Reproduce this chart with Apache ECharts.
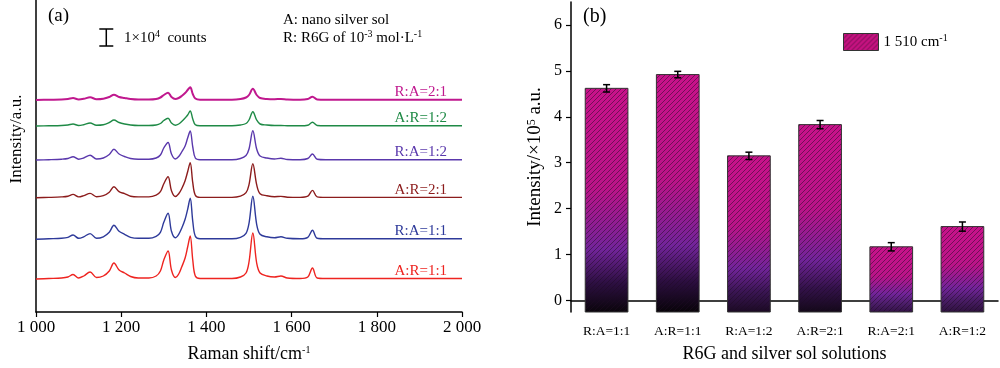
<!DOCTYPE html>
<html><head><meta charset="utf-8">
<script src="https://cdn.jsdelivr.net/npm/echarts@6/dist/echarts.min.js"></script>
<style>html,body{margin:0;padding:0;background:#fff}#c{width:1000px;height:368px}</style>
</head><body><div id="c"></div>
<script>
// ---------- Panel (a): Raman spectra (intensity in a.u.) ----------
const ramanShift = [1000,1030,1060,1075,1087,1100,1112,1127,1142,1158,1172,1183,1195,1208,1222,1240,1265,1282,1292,1300,1310,1318,1327,1335,1342,1350,1356,1362,1368,1374,1385,1420,1460,1480,1493,1500,1509,1518,1526,1542,1560,1575,1590,1620,1638,1649,1660,1680,1720,1780,1850,1920,2000];
const specAR11 = [0,0.5,1,2,4.5,1,3,7,1.5,3,8,16,9,6,2.5,1,1,3,8,19,28,9,1.5,5,12,21,32,43,19,3,0.5,0.5,0.5,2,6,17,46,16,6,3,2,3,1,0.5,2,11,1,0.5,0.5,0.5,0.5,0.5,0.5];
const specRA11 = [0,0.5,1,2,4.3,1,2.5,5.7,1,2.5,7,14,8,5,2,1,1,3,7,17,26,8,1.5,5,11,20,30,41,18,3,0.5,0.5,0.5,2,6,16,43,15,5,2.5,1.5,2.5,1,0.5,2,9,1,0.5,0.5,0.5,0.5,0.5,0.5];
const specAR21 = [0,0.3,0.8,1.5,3.3,0.8,2,4.3,1,2,5.5,11,6,4,1.5,0.8,0.8,2.5,6,14,21,7,1.2,4,9,17,26,35,15,2.5,0.3,0.3,0.3,1.5,5,13,34,13,4,2,1,1.3,0.5,0.3,1.5,7.3,0.8,0.3,0.3,0.3,0.3,0.3,0.3];
const specRA12 = [0,0.3,0.8,1.5,3.3,0.8,2,4.7,1,2,5.5,10.7,6,3.5,1.5,0.8,0.8,2,5,12,17.5,6,1,3.5,8,14,22,29,13,2,0.3,0.3,0.3,1.5,4.5,11,29.3,11,4,2,1,1.7,0.5,0.3,1.5,6,0.8,0.3,0.3,0.3,0.3,0.3,0.3];
const specAR12 = [0,0.2,0.5,1,2,0.5,1.3,3,0.8,1.3,3.5,6,3.5,2,1,0.5,0.5,1,2.5,5.5,7.7,3,0.8,2,4.5,8,11,15,7,1.2,0.2,0.2,0.2,1,2.5,6,14.3,6,2,1,0.5,0.5,0.3,0.2,0.8,3.7,0.5,0.2,0.2,0.2,0.2,0.2,0.2];
const specRA21 = [0,0.3,0.5,1,2,0.6,1.2,2.7,0.8,1.3,3,5.3,3,2,1,0.5,0.5,1,2.5,5,7.3,3,1,2,4,7,10,12.7,6,1.5,0.3,0.3,0.3,1,2.5,5,11.3,5,2,1,0.8,1,0.5,0.3,1,3.3,0.5,0.3,0.3,0.3,0.3,0.3,0.3];
const spectraNames   = ['A:R=1:1','R:A=1:1','A:R=2:1','R:A=1:2','A:R=1:2','R:A=2:1'];
const spectraData    = [specAR11, specRA11, specAR21, specRA12, specAR12, specRA21];
const spectraOffsets = [33, 72.7, 114.3, 152, 186, 212];   // vertical stacking offsets (a.u.)
const spectraColors  = ['#EE2420','#2E3A9A','#8C1C1C','#5A38AC','#1F8A46','#C0188E'];
const ramanTicks = [1000,1200,1400,1600,1800,2000];
const scaleBar = {x: 1165, from: 266, to: 283}; // 1x10^4 counts

// ---------- Panel (b): 1510 cm-1 band intensity ----------
const barCategories = ['R:A=1:1','A:R=1:1','R:A=1:2','A:R=2:1','R:A=2:1','A:R=1:2'];
const barValues = [4.62, 4.92, 3.15, 3.83, 1.17, 1.61];
const barErrors = [0.08, 0.07, 0.08, 0.09, 0.09, 0.10];
const yTicksB = [0,1,2,3,4,5,6];

const FONT = '"Liberation Serif","Times New Roman",serif';
const B_MIN = -0.25, B_MAX = 6.5;

function hatchCanvas(bg){
  const s = 5, c = document.createElement('canvas'); c.width = s; c.height = s;
  const g = c.getContext('2d');
  if (bg){ g.fillStyle = bg; g.fillRect(0,0,s,s); }
  g.strokeStyle = 'rgba(30,10,35,0.55)'; g.lineWidth = 0.9;
  g.beginPath();
  g.moveTo(-1,s+1); g.lineTo(s+1,-1);
  g.moveTo(-2,2); g.lineTo(2,-2);
  g.moveTo(s-2,s+2); g.lineTo(s+2,s-2);
  g.stroke();
  return c;
}
const hatch = hatchCanvas(null);
const hatchLegend = hatchCanvas('#C4127F');

function mix(a,b,t){
  const pa=[1,3,5].map(i=>parseInt(a.substr(i,2),16)), pb=[1,3,5].map(i=>parseInt(b.substr(i,2),16));
  return 'rgb('+pa.map((v,i)=>Math.round(v+(pb[i]-v)*t)).join(',')+')';
}

const supRich = {s:{fontSize:10, lineHeight:10, verticalAlign:'top', fontFamily:FONT, color:'#000'}};

const lineSeries = spectraNames.map((n,k)=>({
  type:'line', name:n, xAxisIndex:0, yAxisIndex:0, showSymbol:false, symbol:'none',
  smooth:0.35, silent:true,
  lineStyle:{color:spectraColors[k], width: k===5 ? 2 : 1.4},
  data: ramanShift.map((x,i)=>[x, spectraOffsets[k] + spectraData[k][i]])
}));

const chart = echarts.init(document.getElementById('c'), null, {renderer:'canvas'});
chart.setOption({
  animation:false,
  textStyle:{fontFamily:FONT, color:'#000'},
  grid:[
    {left:36, top:0, width:426, height:312},
    {left:571, top:2, width:427, height:313.3}
  ],
  xAxis:[
    {type:'value', gridIndex:0, min:1000, max:2000, interval:200,
     axisLine:{lineStyle:{color:'#000', width:1.5}}, axisTick:{show:true, length:5, lineStyle:{color:'#000', width:1.2}},
     splitLine:{show:false},
     axisLabel:{fontSize:17, fontFamily:FONT, color:'#000', margin:7,
       formatter:v=>{const s=String(v); return s.length>3 ? s.slice(0,s.length-3)+' '+s.slice(-3) : s;}},
     name:'Raman shift/cm{s|-1}', nameLocation:'middle', nameGap:33,
     nameTextStyle:{fontSize:18, fontFamily:FONT, color:'#000', rich:supRich}},
    {type:'category', gridIndex:1, data:barCategories,
     axisLine:{lineStyle:{color:'#000', width:1.5}}, axisTick:{show:true, alignWithLabel:true, length:5, lineStyle:{color:'#000', width:1.2}},
     axisLabel:{fontSize:13.5, fontFamily:FONT, color:'#000', margin:12},
     name:'R6G and silver sol solutions', nameLocation:'middle', nameGap:33,
     nameTextStyle:{fontSize:18, fontFamily:FONT, color:'#000'}}
  ],
  yAxis:[
    {type:'value', gridIndex:0, min:0, max:312,
     axisLine:{show:true, lineStyle:{color:'#000', width:1.5}}, axisTick:{show:false}, axisLabel:{show:false}, splitLine:{show:false}},
    {type:'value', gridIndex:1, min:B_MIN, max:B_MAX,
     axisLine:{show:true, lineStyle:{color:'#000', width:1.5}},
     axisTick:{show:true, length:5, customValues:yTicksB, lineStyle:{color:'#000', width:1.2}},
     axisLabel:{fontSize:16, fontFamily:FONT, color:'#000', margin:9, customValues:yTicksB},
     splitLine:{show:false},
     name:'Intensity/×10{s|5} a.u.', nameLocation:'middle', nameGap:26, nameRotate:90,
     nameTextStyle:{fontSize:19, fontFamily:FONT, color:'#000', rich:{s:{fontSize:12, lineHeight:12, verticalAlign:'top', fontFamily:FONT, color:'#000'}}}}
  ],
  legend:{
    left:843, top:33, padding:0, itemWidth:35, itemHeight:17, itemGap:4, selectedMode:false,
    data:[{name:'1 510 cm-1', icon:'rect', itemStyle:{color:{image:hatchLegend, repeat:'repeat'}, borderColor:'#333', borderWidth:1}}],
    formatter:()=>'{n|1 510 cm}{s|-1}',
    textStyle:{fontFamily:FONT, color:'#000', fontSize:15,
      rich:{n:{fontSize:15, lineHeight:18, fontFamily:FONT, color:'#000'}, s:{fontSize:10, lineHeight:10, verticalAlign:'top', fontFamily:FONT, color:'#000'}}}
  },
  series: lineSeries.concat([
    {type:'custom', name:'scalebar', xAxisIndex:0, yAxisIndex:0, silent:true,
     data:[[scaleBar.x, scaleBar.from, scaleBar.to]],
     renderItem:(p,api)=>{
       const a = api.coord([api.value(0), api.value(1)]), b = api.coord([api.value(0), api.value(2)]);
       const st = {stroke:'#000', lineWidth:1.5};
       return {type:'group', children:[
         {type:'line', shape:{x1:a[0], y1:a[1], x2:b[0], y2:b[1]}, style:st},
         {type:'line', shape:{x1:a[0]-7, y1:a[1], x2:a[0]+7, y2:a[1]}, style:st},
         {type:'line', shape:{x1:b[0]-7, y1:b[1], x2:b[0]+7, y2:b[1]}, style:st}
       ]};
     }},
    {type:'custom', name:'1 510 cm-1', xAxisIndex:1, yAxisIndex:1, silent:true,
     encode:{x:0, y:1},
     data: barValues.map((v,i)=>[i, v, barErrors[i]]),
     renderItem:(p,api)=>{
       const i = api.value(0), v = api.value(1), e = api.value(2);
       const top = api.coord([i, v]), bot = api.coord([i, B_MIN]);
       const w = api.size([1,0])[0]*0.6, h = bot[1]-top[1], x = top[0]-w/2;
       const k = Math.min(1, h/230);
       const fill = {type:'linear', x:0, y:0, x2:0, y2:1, colorStops:[
         {offset:0, color:'#C8128A'},
         {offset:0.45, color:'#BA1488'},
         {offset:0.72, color:'#72249A'},
         {offset:0.87, color:mix('#58247A','#2C0E40',k)},
         {offset:1, color:mix('#44185E','#080409',k)}
       ]};
       const eT = api.coord([i, v+e]), eB = api.coord([i, v-e]);
       const es = {stroke:'#000', lineWidth:1.5};
       return {type:'group', children:[
         {type:'rect', shape:{x, y:top[1], width:w, height:h}, style:{fill}},
         {type:'rect', shape:{x, y:top[1], width:w, height:h}, style:{fill:{image:hatch, repeat:'repeat'}, stroke:'#333', lineWidth:1}},
         {type:'line', shape:{x1:top[0], y1:eT[1], x2:top[0], y2:eB[1]}, style:es},
         {type:'line', shape:{x1:top[0]-3.5, y1:eT[1], x2:top[0]+3.5, y2:eT[1]}, style:es},
         {type:'line', shape:{x1:top[0]-3.5, y1:eB[1], x2:top[0]+3.5, y2:eB[1]}, style:es}
       ]};
     }}
  ])
});

// labels for the spectra, positioned through the axis scales
const labelX = 1965;
const gfx = spectraNames.map((n,k)=>{
  const p = chart.convertToPixel({gridIndex:0}, [labelX, spectraOffsets[k]]);
  return {type:'text', x:p[0], y:p[1]-8, silent:true,
    style:{text:n, fill:spectraColors[k], font:'15px '+FONT, align:'right', verticalAlign:'middle'}};
});
gfx.push(
  {type:'text', x:17, y:139, rotation:Math.PI/2, silent:true,
   style:{text:'Intensity/a.u.', fill:'#000', font:'17px '+FONT, align:'center', verticalAlign:'middle'}},
  {type:'text', x:48, y:16, silent:true, style:{text:'(a)', fill:'#000', font:'19px '+FONT, verticalAlign:'middle'}},
  {type:'text', x:583, y:17, silent:true, style:{text:'(b)', fill:'#000', font:'20px '+FONT, verticalAlign:'middle'}},
  {type:'text', x:124, y:38, silent:true,
   style:{text:'{n|1×10}{s|4}{n|  counts}', verticalAlign:'middle',
     rich:{n:{fontSize:15, lineHeight:18, fontFamily:FONT, fill:'#000'}, s:{fontSize:10, lineHeight:10, verticalAlign:'top', fontFamily:FONT, fill:'#000'}}}},
  {type:'text', x:283, y:20, silent:true, style:{text:'A: nano silver sol', fill:'#000', font:'15px '+FONT, verticalAlign:'middle'}},
  {type:'text', x:283, y:38, silent:true,
   style:{text:'{n|R: R6G of 10}{s|-3}{n| mol·L}{s|-1}', verticalAlign:'middle',
     rich:{n:{fontSize:15, lineHeight:18, fontFamily:FONT, fill:'#000'}, s:{fontSize:10, lineHeight:10, verticalAlign:'top', fontFamily:FONT, fill:'#000'}}}}
);
chart.setOption({graphic:gfx});
</script>
</body></html>
